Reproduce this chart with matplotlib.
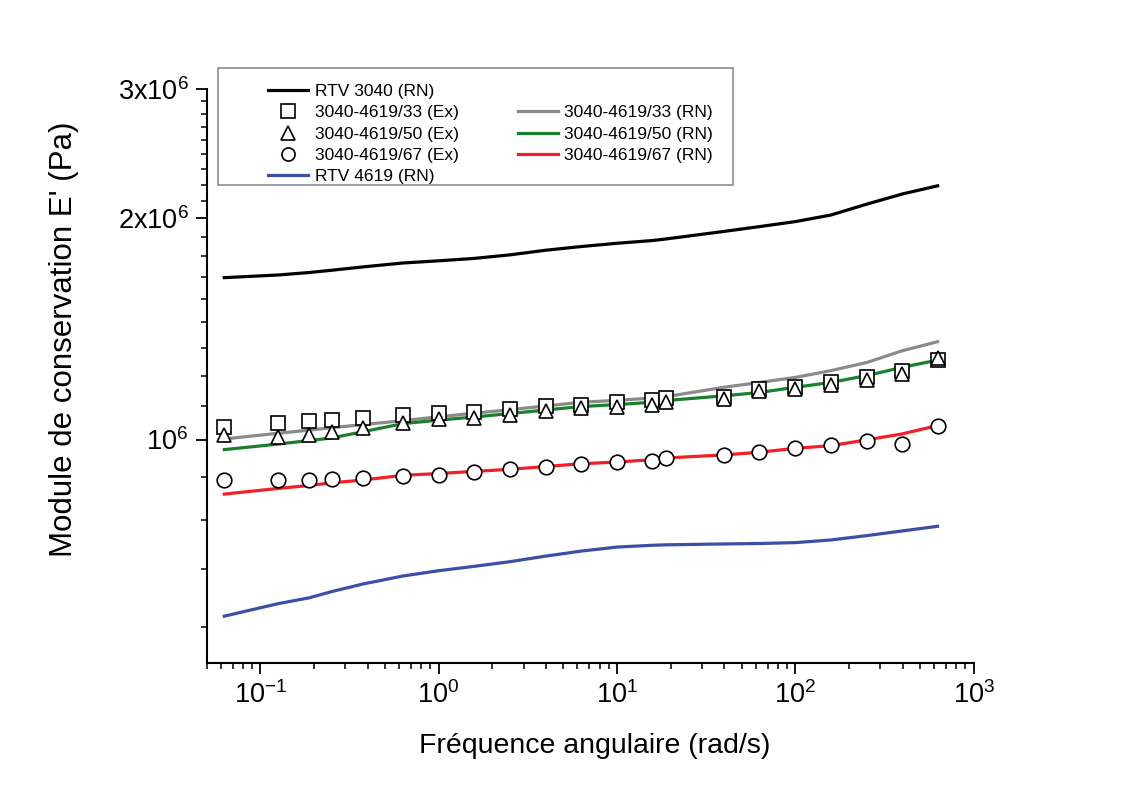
import matplotlib
matplotlib.use("Agg")
import matplotlib.pyplot as plt
from matplotlib.lines import Line2D
from matplotlib.patches import Rectangle
from matplotlib.ticker import FixedLocator
import numpy as np

plt.rcParams["font.family"] = ["Liberation Sans", "DejaVu Sans"]
plt.rcParams["mathtext.default"] = "regular"
plt.rcParams["axes.unicode_minus"] = False

# angular frequency (rad/s)
freq = [0.0628, 0.126, 0.188, 0.251, 0.377, 0.628, 1.0, 1.57, 2.51, 3.98,
        6.28, 10.0, 15.8, 18.8, 39.8, 62.8, 100.0, 158.0, 251.0, 398.0, 628.0]

# experimental storage modulus E' (MPa)
ex_33 = [1.039, 1.052, 1.059, 1.063, 1.070, 1.080, 1.087, 1.091, 1.101, 1.110,
         1.116, 1.124, 1.132, 1.139, 1.144, 1.172, 1.180, 1.196, 1.215, 1.241,
         1.283]
ex_50 = [1.013, 1.007, 1.015, 1.023, 1.036, 1.054, 1.065, 1.069, 1.081, 1.095,
         1.104, 1.106, 1.116, 1.126, 1.136, 1.163, 1.172, 1.188, 1.205, 1.228,
         1.291]
ex_67 = [0.880, 0.880, 0.882, 0.885, 0.887, 0.892, 0.896, 0.903, 0.912, 0.917,
         0.925, 0.932, 0.936, 0.943, 0.953, 0.963, 0.974, 0.984, 0.994, 0.987,
         1.045]

# network model (RN) curves (MPa)
rn_3040 = [1.661, 1.675, 1.688, 1.700, 1.718, 1.739, 1.751, 1.764, 1.784, 1.810,
           1.831, 1.850, 1.866, 1.875, 1.920, 1.949, 1.980, 2.021, 2.091, 2.159,
           2.215]
rn_33 = [1.002, 1.020, 1.030, 1.038, 1.048, 1.061, 1.074, 1.086, 1.098, 1.111,
         1.124, 1.131, 1.139, 1.144, 1.178, 1.196, 1.215, 1.241, 1.273, 1.321,
         1.359]
rn_50 = [0.969, 0.986, 0.997, 1.005, 1.025, 1.051, 1.063, 1.073, 1.085, 1.097,
         1.109, 1.116, 1.124, 1.130, 1.147, 1.159, 1.178, 1.196, 1.222, 1.254,
         1.283]
rn_67 = [0.843, 0.858, 0.866, 0.873, 0.881, 0.894, 0.899, 0.905, 0.911, 0.919,
         0.927, 0.932, 0.939, 0.944, 0.953, 0.961, 0.973, 0.981, 0.999, 1.018,
         1.045]
rn_4619 = [0.575, 0.598, 0.609, 0.621, 0.636, 0.652, 0.663, 0.672, 0.682, 0.694,
           0.705, 0.714, 0.718, 0.719, 0.721, 0.722, 0.724, 0.730, 0.740, 0.751,
           0.762]

y_ticks = [1e6, 2e6, 3e6]
y_tick_labels = ["$10^6$", "$2x10^6$", "$3x10^6$"]


def mpa(values):
    """MPa -> Pa"""
    return np.array(values) * 1e6


def main():
    fig = plt.figure(figsize=(11.23, 7.92), dpi=100)
    ax = fig.add_axes([0.184, 0.1633, 0.683, 0.7243])

    lw = 2.3
    h_black, = ax.plot(freq, mpa(rn_3040), color="black", lw=lw, label="RTV 3040 (RN)")
    h_gray, = ax.plot(freq, mpa(rn_33), color="#8a8a8a", lw=lw, label="3040-4619/33 (RN)")
    h_green, = ax.plot(freq, mpa(rn_50), color="#17812c", lw=lw, label="3040-4619/50 (RN)")
    h_red, = ax.plot(freq, mpa(rn_67), color="#f21f26", lw=lw, label="3040-4619/67 (RN)")
    h_blue, = ax.plot(freq, mpa(rn_4619), color="#3c4fa6", lw=lw, label="RTV 4619 (RN)")

    mk = dict(ls="none", mfc="white", mec="black", mew=1.2, ms=10.5, zorder=4)
    h_sq, = ax.plot(freq, mpa(ex_33), marker="s", label="3040-4619/33 (Ex)", **mk)
    h_tri, = ax.plot(freq, mpa(ex_50), marker="^", label="3040-4619/50 (Ex)", **mk)
    h_cir, = ax.plot(freq, mpa(ex_67), marker="o", label="3040-4619/67 (Ex)", **mk)

    ax.set_xscale("log")
    ax.set_yscale("log")
    ax.set_xlim(0.05, 1000)
    ax.set_ylim(4.97e5, 3e6)

    ax.yaxis.set_major_locator(FixedLocator(y_ticks))
    ax.set_yticklabels(y_tick_labels)
    minor = [k * 1e6 / 9 for k in range(1, 28) if k % 9 != 0]
    ax.yaxis.set_minor_locator(FixedLocator(minor))
    ax.yaxis.set_minor_formatter(plt.NullFormatter())

    for side in ("top", "right"):
        ax.spines[side].set_visible(False)
    for side in ("left", "bottom"):
        ax.spines[side].set_linewidth(1.5)
    ax.tick_params(which="major", direction="out", length=8, width=1.3,
                   labelsize=19.5, pad=5)
    ax.tick_params(which="minor", direction="out", length=4.5, width=1.1)

    ax.set_xlabel("Fréquence angulaire (rad/s)", fontsize=20.5)
    ax.xaxis.set_label_coords(0.506, -0.122)
    ax.set_ylabel("Module de conservation E' (Pa)", fontsize=22.5)
    ax.yaxis.set_label_coords(-0.166, 0.563)

    empty = Line2D([], [], ls="none")
    handles = [h_black, h_sq, h_tri, h_cir, h_blue,
               empty, h_gray, h_green, h_red, empty]
    labels = ["RTV 3040 (RN)", "3040-4619/33 (Ex)", "3040-4619/50 (Ex)",
              "3040-4619/67 (Ex)", "RTV 4619 (RN)",
              "", "3040-4619/33 (RN)", "3040-4619/50 (RN)",
              "3040-4619/67 (RN)", ""]
    fig.legend(handles, labels, ncol=2, loc="upper left",
               bbox_to_anchor=(259 / 1123, 1 - 75 / 792),
               bbox_transform=fig.transFigure, frameon=False,
               fontsize=12.5, borderpad=0, handlelength=2.35,
               handletextpad=0.35, columnspacing=3.4, labelspacing=0.36,
               numpoints=1, markerscale=0.9)
    fig.patches.append(Rectangle((218 / 1123, 1 - 185 / 792), 515 / 1123, 117 / 792,
                                 transform=fig.transFigure, fill=False,
                                 edgecolor="#8c8c8c", lw=1.2))

    fig.savefig("out.png", dpi=100)


if __name__ == "__main__":
    main()
